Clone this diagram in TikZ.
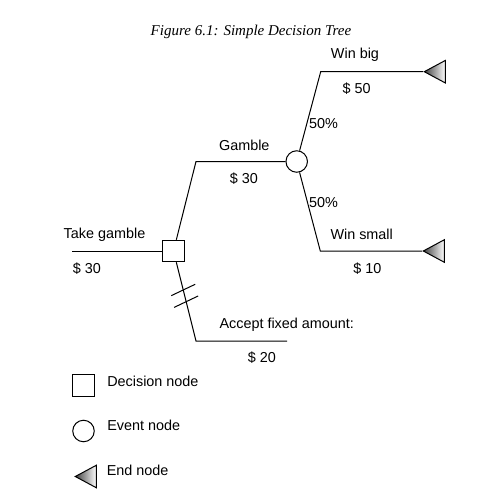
\documentclass[tikz,border=0pt]{standalone}
\usepackage{fontspec}
\setmainfont{Liberation Sans}
\newfontfamily\captionfont{Liberation Serif}
\usepackage{tikz}
\usetikzlibrary{positioning,shapes.geometric,calc}

\tikzset{
  decision/.style={draw, rectangle, minimum size=21.5pt, inner sep=0pt, fill=white},
  event/.style={draw, circle, minimum size=21.5pt, inner sep=0pt, fill=white},
  endnode/.style={draw, isosceles triangle, shape border rotate=180,
    isosceles triangle stretches, minimum width=22.5pt, minimum height=21pt,
    inner sep=0pt, left color=black!75, right color=white},
  lbl/.style={inner sep=0pt, font=\fontsize{14.4}{17}\selectfont},
}

\begin{document}
\begin{tikzpicture}[x=1pt,y=-1pt, line width=1pt]
  \useasboundingbox (0,0) rectangle (504,493);

  \node[inner sep=0pt, font=\captionfont\itshape\fontsize{15}{18}\selectfont] (title) at (251,31.5) {Figure 6.1: Simple Decision Tree};

  %==================================================

  \node[decision] (take) at (173.5,251) {};
  \node[event] (gamble) at (296.7,161.5) {};
  \node[endnode, anchor=apex] (big) at (423,71.7) {};
  \node[endnode, anchor=apex] (small) at (422,251) {};

  \coordinate (start) at (72,251);
  \coordinate (g_kink) at (196,161.5);
  \coordinate (big_kink) at (320.7,71.7);
  \coordinate (small_kink) at (320.3,251);
  \coordinate (fix_kink) at (196,341);
  \coordinate (fix_end) at (287,341);

  \draw (start) -- (take);
  \draw (take) -- (g_kink) -- (gamble);
  \draw (gamble) -- (big_kink) -- (big);
  \draw (gamble) -- (small_kink) -- (small);
  \draw (take) -- (fix_kink) -- (fix_end);

  % fixed amount branch is cut
  \coordinate (cut1) at ($(take)!0.433!(fix_kink)$);
  \coordinate (cut2) at ($(take)!0.563!(fix_kink)$);
  \draw ([shift={(-12,5.7)}]cut1) -- ([shift={(12,-5.7)}]cut1);
  \draw ([shift={(-12,5.7)}]cut2) -- ([shift={(12,-5.7)}]cut2);

  %==================================================

  \node[lbl] (take_lbl) at (104.5,235) {Take gamble};
  \node[lbl] (take_val) at (87,268.5) {\$ 30};
  \node[lbl] (gamble_lbl) at (244.3,145) {Gamble};
  \node[lbl] (gamble_val) at (244,179) {\$ 30};
  \node[lbl] (big_lbl) at (355,55) {Win big};
  \node[lbl] (big_val) at (356.7,88.5) {\$ 50};
  \node[lbl, anchor=west] (big_p) at (308.5,124) {50\%};
  \node[lbl, anchor=west] (small_p) at (308.5,202.7) {50\%};
  \node[lbl] (small_lbl) at (361.7,234.5) {Win small};
  \node[lbl] (small_val) at (367.3,269) {\$ 10};
  \node[lbl, anchor=west] (fix_lbl) at (219,325) {Accept fixed amount:};
  \node[lbl] (fix_val) at (262,358) {\$ 20};

  %==================================================

  \node[decision] (key_d) at (83.5,385.5) {};
  \node[lbl, right=12pt of key_d, yshift=4.5pt] (key_d_lbl) {Decision node};
  \node[event] (key_e) at (83.5,431) {};
  \node[lbl, right=12pt of key_e, yshift=5.5pt] (key_e_lbl) {Event node};
  \node[endnode, anchor=apex] (key_t) at (74,476.5) {};
  \node[lbl, right=9.5pt of key_t, yshift=6.5pt] (key_t_lbl) {End node};

\end{tikzpicture}
\end{document}
